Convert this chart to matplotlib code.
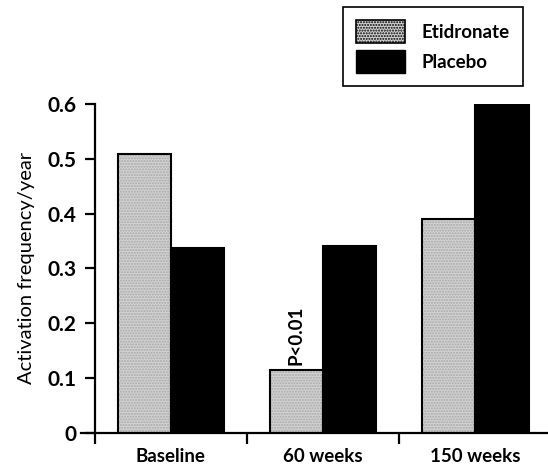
import numpy as np
import matplotlib
matplotlib.use("Agg")
import matplotlib.pyplot as plt
from matplotlib.patches import Patch

plt.rcParams['font.family'] = ['Lato', 'DejaVu Sans']

# Données
categories = ["Baseline", "60 weeks", "150 weeks"]
etidronate = [0.508, 0.115, 0.39]
placebo = [0.338, 0.340, 0.60]
y_ticks = [0, 0.1, 0.2, 0.3, 0.4, 0.5, 0.6]
y_tick_labels = ["0", "0.1", "0.2", "0.3", "0.4", "0.5", "0.6"]

fig = plt.figure(figsize=(5.48, 4.65), dpi=100)
ax = fig.add_axes([81 / 548, 1 - 432.7 / 465, (547 - 81) / 548, (432.7 - 104) / 465])

x = np.arange(len(categories))
w = 0.35
gris = "#d2d2d2"

# Etidronate : gris pointillé
ax.bar(x - w / 2, etidronate, w, color=gris, linewidth=0)
ax.bar(x - w / 2, etidronate, w, fill=False, hatch="......", edgecolor="#a8a8a8", linewidth=0)
ax.bar(x - w / 2, etidronate, w, fill=False, edgecolor="black", linewidth=1.5)
# Placebo : noir
ax.bar(x + w / 2, placebo, w, color="black", edgecolor="black", linewidth=1.5)

ax.set_xlim(-0.59, 2.47)
ax.set_ylim(0, 0.6)

ax.spines["top"].set_visible(False)
ax.spines["right"].set_visible(False)
ax.spines["left"].set_position(("data", -0.5))
ax.spines["left"].set_linewidth(1.6)
ax.spines["bottom"].set_linewidth(1.6)

ax.set_yticks(y_ticks)
ax.set_yticklabels(y_tick_labels, fontsize=15, fontweight="bold")
ax.tick_params(axis="y", length=7, width=1.6, pad=6)

ax.set_xticks(x)
ax.set_xticklabels(categories, fontsize=13.5, fontweight="bold")
ax.tick_params(axis="x", which="major", length=0, pad=11)
ax.set_xticks([-0.5, 0.5, 1.5], minor=True)
ax.tick_params(axis="x", which="minor", length=8, width=1.6, direction="out")

ax.set_ylabel("Activation frequency/year", fontsize=14.5, labelpad=9)

ax.text(x[1] - w / 2, etidronate[1] + 0.008, "P<0.01", rotation=90,
        ha="center", va="bottom", fontsize=13.5, fontweight="bold")

handles = [Patch(facecolor=gris, edgecolor="black", hatch="......", linewidth=1.2),
           Patch(facecolor="black", edgecolor="black")]
leg = fig.legend(handles, ["Etidronate", "Placebo"], loc="upper left",
                 bbox_to_anchor=(343 / 548, 1 - 7 / 465), borderaxespad=0,
                 fancybox=False, edgecolor="black", framealpha=1,
                 handlelength=2.6, handleheight=1.5,
                 borderpad=0.7, labelspacing=0.4, handletextpad=0.9,
                 prop={"size": 13.5, "weight": "bold"})
leg.get_frame().set_linewidth(1.2)

fig.savefig("out.png", dpi=100)
